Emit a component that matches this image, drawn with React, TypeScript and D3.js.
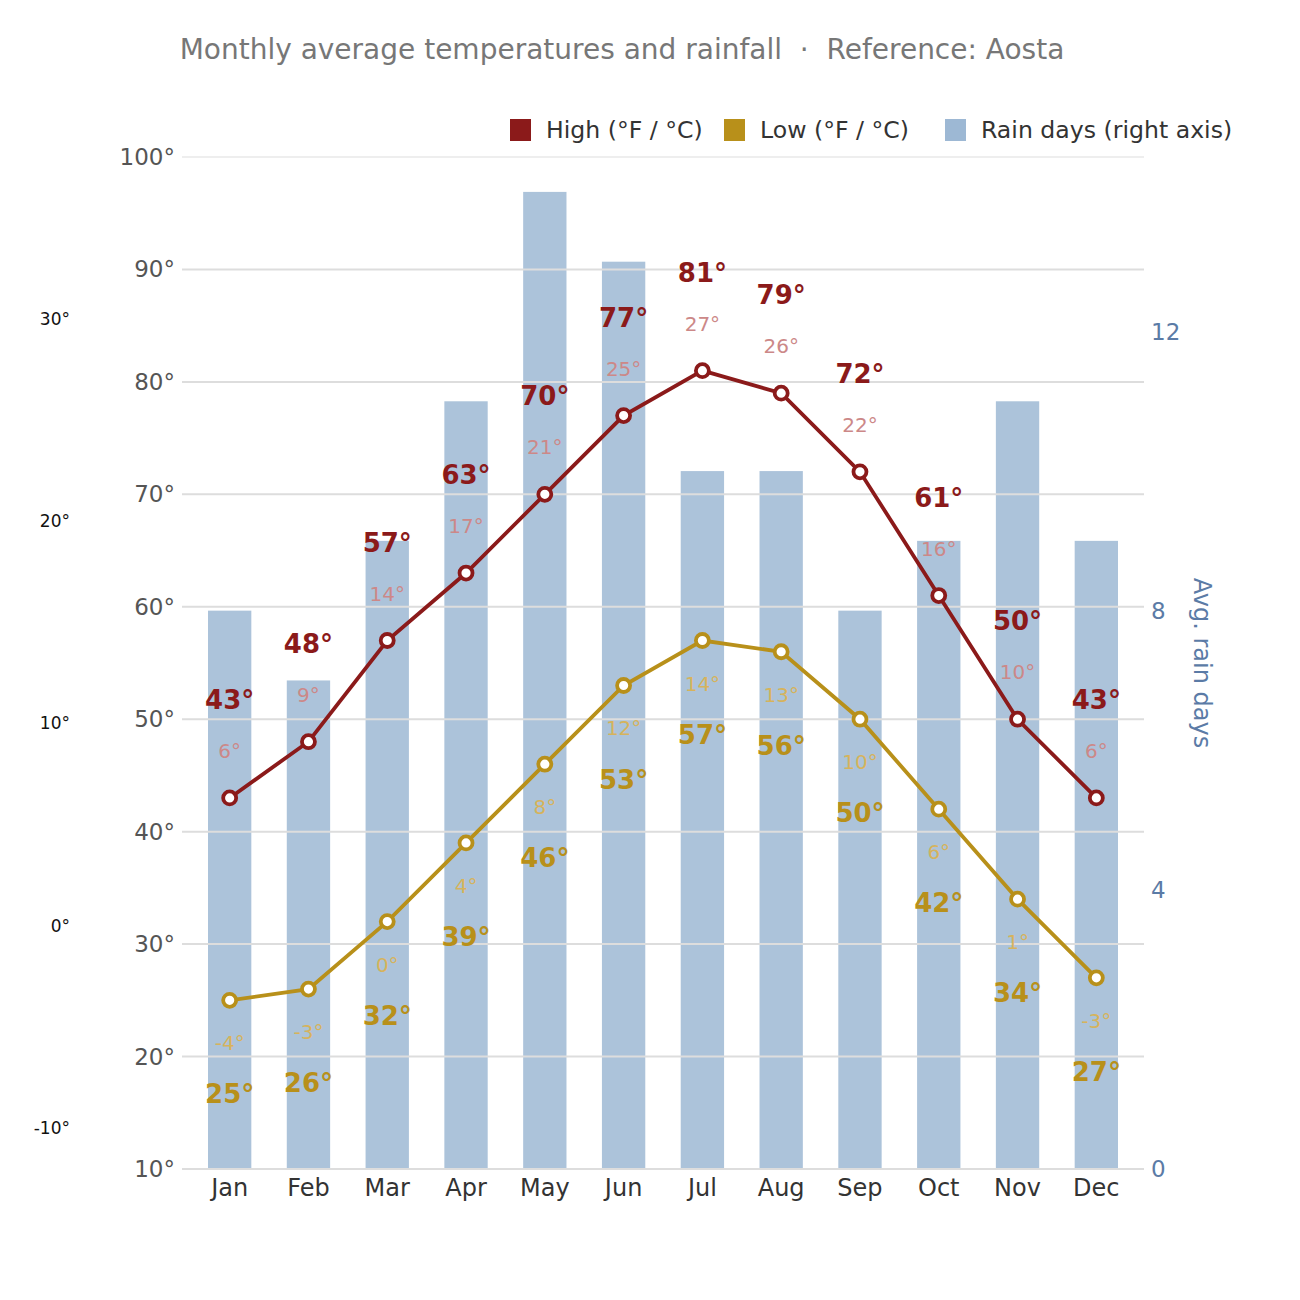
import { useEffect, useRef } from "react";
import * as d3 from "d3";

const months = ["Jan", "Feb", "Mar", "Apr", "May", "Jun", "Jul", "Aug", "Sep", "Oct", "Nov", "Dec"];
const highF = [43, 48, 57, 63, 70, 77, 81, 79, 72, 61, 50, 43];
const highC = [6, 9, 14, 17, 21, 25, 27, 26, 22, 16, 10, 6];
const lowF = [25, 26, 32, 39, 46, 53, 57, 56, 50, 42, 34, 27];
const lowC = [-4, -3, 0, 4, 8, 12, 14, 13, 10, 6, 1, -3];
const rainDays = [8, 7, 9, 11, 14, 13, 10, 10, 8, 9, 11, 9];
const fTicks = [10, 20, 30, 40, 50, 60, 70, 80, 90, 100];
const cTicks = [30, 20, 10, 0, -10];
const rainTicks = [0, 4, 8, 12];

const HIGH = "#8b1a1a";
const HIGH_C = "#cc8888";
const LOW = "#b8901a";
const LOW_C = "#d6b35c";
const RAIN = "#9db8d4";
const FONT = "DejaVu Sans, sans-serif";

const App = () => {
  const svgRef = useRef<SVGSVGElement | null>(null);

  useEffect(() => {
    if (!svgRef.current) return;
    const width = 1300;
    const height = 1300;
    const left = 182;
    const right = 1144;
    const top = 157;
    const bottom = 1169;

    const svg = d3.select(svgRef.current).attr("width", width).attr("height", height);
    svg.selectAll("*").remove();
    svg.style("font-family", FONT);

    const x = d3.scaleBand().domain(months).range([left, right]).paddingInner(0.45).paddingOuter(0.33);
    const y = d3.scaleLinear().domain([10, 100]).range([bottom, top]);
    const yRain = d3.scaleLinear().domain([0, 14.5]).range([bottom, top]);
    const cx = (m: string) => (x(m) as number) + x.bandwidth() / 2;

    // title
    svg.append("text")
      .attr("x", 622).attr("y", 59)
      .attr("text-anchor", "middle")
      .attr("font-size", 28).attr("fill", "#777")
      .style("white-space", "pre")
      .text("Monthly average temperatures and rainfall  ·  Reference: Aosta");

    // rain bars
    svg.append("g").selectAll("rect").data(rainDays).enter().append("rect")
      .attr("x", (_d, i) => x(months[i]) as number)
      .attr("width", x.bandwidth())
      .attr("y", (d) => yRain(d))
      .attr("height", (d) => bottom - yRain(d))
      .attr("fill", RAIN).attr("opacity", 0.85);

    // gridlines + left axis
    svg.append("g").selectAll("line").data(fTicks).enter().append("line")
      .attr("x1", left).attr("x2", right)
      .attr("y1", (d) => y(d)).attr("y2", (d) => y(d))
      .attr("stroke", "#ddd").attr("stroke-width", (d) => (d === 100 ? 1 : 2));
    svg.append("g").selectAll("text").data(fTicks).enter().append("text")
      .attr("x", 175).attr("y", (d) => y(d)).attr("dy", "0.35em")
      .attr("text-anchor", "end").attr("font-size", 23).attr("fill", "#555")
      .text((d) => `${d}°`);

    // celsius labels at far left
    svg.append("g").selectAll("text").data(cTicks).enter().append("text")
      .attr("x", 70).attr("y", (d) => y(d * 1.8 + 32)).attr("dy", "0.6em")
      .attr("text-anchor", "end").attr("font-size", 17).attr("fill", "#111")
      .text((d) => `${d}°`);

    // right axis
    svg.append("g").selectAll("text").data(rainTicks).enter().append("text")
      .attr("x", 1151).attr("y", (d) => yRain(d)).attr("dy", "0.35em")
      .attr("font-size", 23).attr("fill", "#5b7ba6")
      .text((d) => d);
    svg.append("text")
      .attr("transform", `translate(1194,${(top + bottom) / 2}) rotate(90)`)
      .attr("text-anchor", "middle").attr("font-size", 24).attr("fill", "#5b7ba6")
      .text("Avg. rain days");

    // month labels
    svg.append("g").selectAll("text").data(months).enter().append("text")
      .attr("x", (d) => cx(d)).attr("y", 1196)
      .attr("text-anchor", "middle").attr("font-size", 24).attr("fill", "#333")
      .text((d) => d);

    const series = [
      { f: highF, c: highC, color: HIGH, cColor: HIGH_C, dir: -1 },
      { f: lowF, c: lowC, color: LOW, cColor: LOW_C, dir: 1 },
    ];

    series.forEach((s) => {
      const line = d3.line<number>().x((_d, i) => cx(months[i])).y((d) => y(d));
      svg.append("path").datum(s.f).attr("d", line)
        .attr("fill", "none").attr("stroke", s.color).attr("stroke-width", 3.8);
      svg.append("g").selectAll("circle").data(s.f).enter().append("circle")
        .attr("cx", (_d, i) => cx(months[i])).attr("cy", (d) => y(d)).attr("r", 6.5)
        .attr("fill", "#fff").attr("stroke", s.color).attr("stroke-width", 3.8);
      svg.append("g").selectAll("text").data(s.f).enter().append("text")
        .attr("x", (_d, i) => cx(months[i]))
        .attr("y", (d) => y(d) + s.dir * (s.dir < 0 ? 98 : 94))
        .attr("dy", "0.35em").attr("text-anchor", "middle")
        .attr("font-size", 26).attr("font-weight", "bold").attr("fill", s.color)
        .text((d) => `${d}°`);
      svg.append("g").selectAll("text").data(s.c).enter().append("text")
        .attr("x", (_d, i) => cx(months[i]))
        .attr("y", (_d, i) => y(s.f[i]) + s.dir * (s.dir < 0 ? 47 : 43))
        .attr("dy", "0.35em").attr("text-anchor", "middle")
        .attr("font-size", 20).attr("fill", s.cColor)
        .text((d) => `${d}°`);
    });

    // legend
    const legend = [
      { label: "High (°F / °C)", color: HIGH, x: 510 },
      { label: "Low (°F / °C)", color: LOW, x: 724 },
      { label: "Rain days (right axis)", color: RAIN, x: 945 },
    ];
    const lg = svg.append("g").selectAll("g").data(legend).enter().append("g")
      .attr("transform", (d) => `translate(${d.x},130)`);
    lg.append("rect").attr("x", 0).attr("y", -11).attr("width", 21).attr("height", 22)
      .attr("fill", (d) => d.color);
    lg.append("text").attr("x", 36).attr("dy", "0.35em")
      .attr("font-size", 23.6).attr("fill", "#333")
      .text((d) => d.label);
  }, []);

  return <svg ref={svgRef} style={{ position: "absolute", left: 0, top: 0 }}></svg>;
};

export default App;
